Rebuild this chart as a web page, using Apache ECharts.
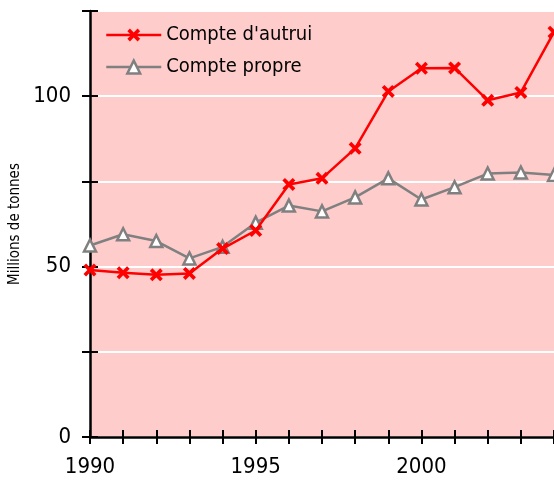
<!DOCTYPE html>
<html>
<head>
<meta charset="utf-8">
<script src="https://cdn.jsdelivr.net/npm/echarts@6/dist/echarts.min.js"></script>
<style>
  html, body { margin: 0; padding: 0; background: #fff; }
  #chart { width: 554px; height: 481px; }
</style>
</head>
<body>
<div id="chart"></div>
<script>
/* ---------- data ---------- */
const years = [1990, 1991, 1992, 1993, 1994, 1995, 1996, 1997, 1998, 1999, 2000, 2001, 2002, 2003, 2004];
const compteAutrui = [49.0, 48.2, 47.6, 48.0, 55.3, 60.6, 74.1, 75.9, 84.7, 101.4, 108.2, 108.3, 98.8, 101.1, 118.8];
const comptePropre = [56.2, 59.5, 57.5, 52.4, 55.8, 62.9, 67.9, 66.2, 70.3, 75.9, 69.7, 73.3, 77.3, 77.6, 76.9];
const seriesNames = ["Compte d'autrui", "Compte propre"];
const yLabels = [0, 50, 100];
const xLabels = [1990, 1995, 2000];

const FONT = "'DejaVu Sans Condensed', 'Liberation Sans Narrow', sans-serif";
const CROSS = "path://M2,0 L5,3 L8,0 L10,2 L7,5 L10,8 L8,10 L5,7 L2,10 L0,8 L3,5 L0,2 Z";

const chart = echarts.init(document.getElementById("chart"));

const axisBase = {
  type: "value",
  axisLine: { show: true, onZero: false, lineStyle: { color: "#000", width: 2.5 } },
  splitLine: { show: false },
};

const option = {
  animation: false,
  grid: {
    left: 90, right: 0, top: 11, bottom: 44,
    outerBoundsMode: "none",
    containLabel: false,
    show: true, backgroundColor: "#ffcccc", borderWidth: 0,
  },
  legend: {
    left: 100, top: 20, orient: "vertical",
    itemWidth: 55, itemHeight: 16, itemGap: 12,
    itemStyle: { borderWidth: 2.5 },
    lineStyle: { width: 2.5 },
    textStyle: { fontFamily: FONT, fontSize: 20, color: "#000" },
    data: seriesNames,
  },
  xAxis: [
    {
      ...axisBase,
      position: "bottom",
      min: 1990, max: 2004, interval: 1,
      axisTick: { show: true, length: 7, lineStyle: { color: "#000", width: 2 } },
      axisLabel: {
        margin: 19, fontFamily: FONT, fontSize: 22, color: "#000",
        formatter: (v) => (xLabels.includes(v) ? String(v) : ""),
      },
    },
    {
      ...axisBase,
      position: "bottom",
      min: 1990, max: 2004, interval: 1,
      axisLine: { show: false },
      axisTick: { show: true, inside: true, length: 7, lineStyle: { color: "#000", width: 2 } },
      axisLabel: { show: false },
    },
  ],
  yAxis: [
    {
      ...axisBase,
      position: "left",
      min: 0, max: 125, interval: 25,
      name: "Millions de tonnes",
      nameLocation: "middle",
      nameGap: 62,
      nameTextStyle: { fontFamily: FONT, fontSize: 15, color: "#000" },
      axisTick: { show: true, length: 8, lineStyle: { color: "#000", width: 2 } },
      axisLabel: {
        margin: 19, fontFamily: FONT, fontSize: 22, color: "#000",
        formatter: (v) => (yLabels.includes(v) ? String(v) : ""),
      },
      splitLine: { show: true, lineStyle: { color: "#fff", width: 2 } },
    },
    {
      ...axisBase,
      position: "left",
      min: 0, max: 125, interval: 25,
      axisLine: { show: false },
      axisTick: { show: true, inside: true, length: 8, lineStyle: { color: "#000", width: 2 } },
      axisLabel: { show: false },
    },
  ],
  series: [
    {
      name: seriesNames[0],
      type: "line",
      data: years.map((y, i) => [y, compteAutrui[i]]),
      symbol: CROSS,
      symbolSize: 13,
      lineStyle: { color: "#ff0000", width: 2.5 },
      itemStyle: { color: "#ff0000" },
      z: 3,
    },
    {
      name: seriesNames[1],
      type: "line",
      data: years.map((y, i) => [y, comptePropre[i]]),
      symbol: "triangle",
      symbolSize: 12,
      lineStyle: { color: "#808080", width: 2.5 },
      itemStyle: { color: "#fff", borderColor: "#808080", borderWidth: 2.5 },
      z: 2,
    },
  ],
};

chart.setOption(option);
</script>
</body>
</html>
